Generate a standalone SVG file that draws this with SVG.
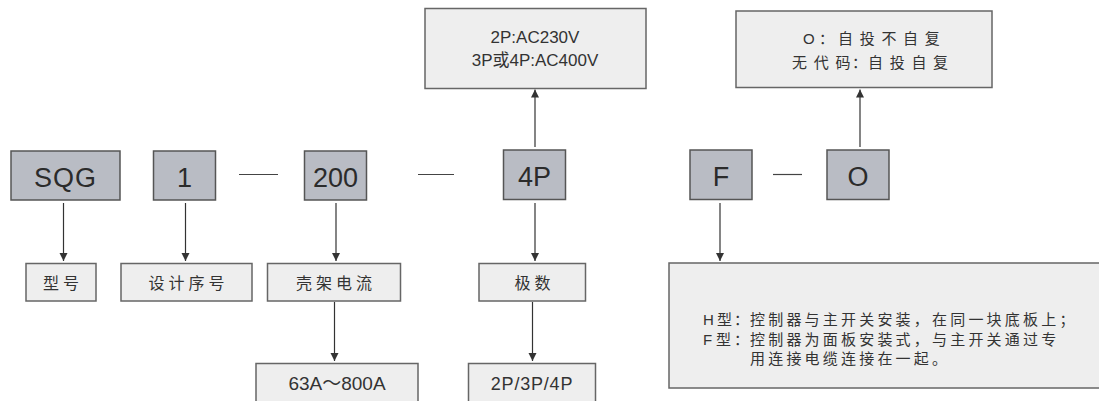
<svg xmlns="http://www.w3.org/2000/svg" width="1099" height="401" viewBox="0 0 1099 401">
<defs>
<marker id="ah" viewBox="0 0 8 10" refX="8" refY="5" markerWidth="8" markerHeight="10" markerUnits="userSpaceOnUse" orient="auto">
<path d="M0,1 L8,5 L0,9 Z" fill="#333"/>
</marker>
<style>
.code{fill:#b9bcc4;stroke:#555;stroke-width:1.5}
.lbl{fill:#eeeeee;stroke:#666;stroke-width:1.5}
.ct{font-family:"Liberation Sans",Arial,sans-serif;font-size:27px;fill:#2b2b2b;text-anchor:middle}
.lt{font-family:"Liberation Sans","Noto Sans CJK SC",sans-serif;font-size:16px;fill:#333;text-anchor:middle;letter-spacing:4px}
.vt{font-family:"Liberation Sans","Noto Sans CJK SC",sans-serif;font-size:17px;fill:#333;text-anchor:middle}
.mt{font-family:"Liberation Sans","Noto Sans CJK SC",sans-serif;font-size:15px;fill:#333;letter-spacing:6.7px}
.bt{font-family:"Liberation Sans","Noto Sans CJK SC",sans-serif;font-size:15px;fill:#333;letter-spacing:3.2px}
.c0{letter-spacing:0}
.ln{stroke:#333;stroke-width:1.2;fill:none}
.dash{stroke:#444;stroke-width:1.2}
</style>
</defs>
<rect width="1099" height="401" fill="#ffffff"/>

<g id="connectors">
<line class="dash" x1="239" y1="174.5" x2="278" y2="174.5"/>
<line class="dash" x1="418" y1="174.5" x2="454" y2="174.5"/>
<line class="dash" x1="773" y1="174.5" x2="802" y2="174.5"/>
<line class="ln" x1="63.5" y1="203" x2="63.5" y2="261" marker-end="url(#ah)"/>
<line class="ln" x1="185.5" y1="203" x2="185.5" y2="261" marker-end="url(#ah)"/>
<line class="ln" x1="336" y1="203" x2="336" y2="261" marker-end="url(#ah)"/>
<line class="ln" x1="334.5" y1="302" x2="334.5" y2="361" marker-end="url(#ah)"/>
<line class="ln" x1="535" y1="203" x2="535" y2="261" marker-end="url(#ah)"/>
<line class="ln" x1="532.5" y1="302" x2="532.5" y2="361" marker-end="url(#ah)"/>
<line class="ln" x1="535" y1="147" x2="535" y2="89.5" marker-end="url(#ah)"/>
<line class="ln" x1="860" y1="147" x2="860" y2="89.5" marker-end="url(#ah)"/>
<line class="ln" x1="720" y1="203" x2="720" y2="261" marker-end="url(#ah)"/>
</g>

<g id="n-sqg"><rect class="code" x="11" y="151" width="109" height="49"/><text class="ct" x="65.5" y="186.5" style="letter-spacing:1px">SQG</text></g>
<g id="n-1"><rect class="code" x="153.5" y="151" width="62" height="49"/><text class="ct" x="184.5" y="186.5">1</text></g>
<g id="n-200"><rect class="code" x="304.5" y="151" width="62" height="49"/><text class="ct" x="335.5" y="186.5">200</text></g>
<g id="n-4p"><rect class="code" x="503.5" y="150" width="62" height="49.5"/><text class="ct" x="534.5" y="186">4P</text></g>
<g id="n-f"><rect class="code" x="690" y="150" width="62" height="49.5"/><text class="ct" x="721" y="186">F</text></g>
<g id="n-o"><rect class="code" x="827" y="150" width="62" height="49.5"/><text class="ct" x="858" y="186">O</text></g>

<g id="n-xinghao"><rect class="lbl" x="26" y="263.5" width="70" height="37.5"/><text class="lt" x="63" y="289">型号</text></g>
<g id="n-sheji"><rect class="lbl" x="121" y="263.5" width="131" height="37.5"/><text class="lt" x="188.5" y="289">设计序号</text></g>
<g id="n-kejia"><rect class="lbl" x="267.5" y="263.5" width="133" height="37.5"/><text class="lt" x="336" y="289">壳架电流</text></g>
<g id="n-jishu"><rect class="lbl" x="479" y="263.5" width="106.5" height="37.5"/><text class="lt" x="534.5" y="289">极数</text></g>

<g id="n-current"><rect class="lbl" x="256" y="363.5" width="162" height="45"/><text class="vt" x="337" y="390" style="font-size:19px">63A～800A</text></g>
<g id="n-poles"><rect class="lbl" x="468.5" y="363.5" width="127" height="45"/><text class="vt" x="532" y="390" style="font-size:18px;letter-spacing:0.8px">2P/3P/4P</text></g>

<g id="n-voltage"><rect class="lbl" x="425" y="8.5" width="221" height="80"/>
<text class="vt" x="535" y="43">2P:AC230V</text>
<text class="vt" x="535" y="66">3P或4P:AC400V</text></g>

<g id="n-mode"><rect class="lbl" x="736" y="11" width="256" height="76.5"/>
<text class="mt" y="44"><tspan x="803" class="c0">O</tspan><tspan x="819" class="c0">：</tspan><tspan x="838">自投不自复</tspan></text>
<text class="mt" y="68"><tspan x="792">无代</tspan><tspan x="835.4" class="c0">码</tspan><tspan x="852" class="c0">：</tspan><tspan x="868">自投自复</tspan></text></g>

<g id="n-type"><rect class="lbl" x="669" y="263" width="440" height="125"/>
<text class="bt" y="325"><tspan x="703">H</tspan><tspan x="717" class="c0">型</tspan><tspan x="734" class="c0">：</tspan><tspan x="750">控制器与主开关安装，在同一块底板上；</tspan></text>
<text class="bt" y="345"><tspan x="703">F</tspan><tspan x="716" class="c0">型</tspan><tspan x="734" class="c0">：</tspan><tspan x="750">控制器为面板安装式，与主开关通过专</tspan></text>
<text class="bt" x="750" y="364">用连接电缆连接在一起。</text></g>
</svg>
